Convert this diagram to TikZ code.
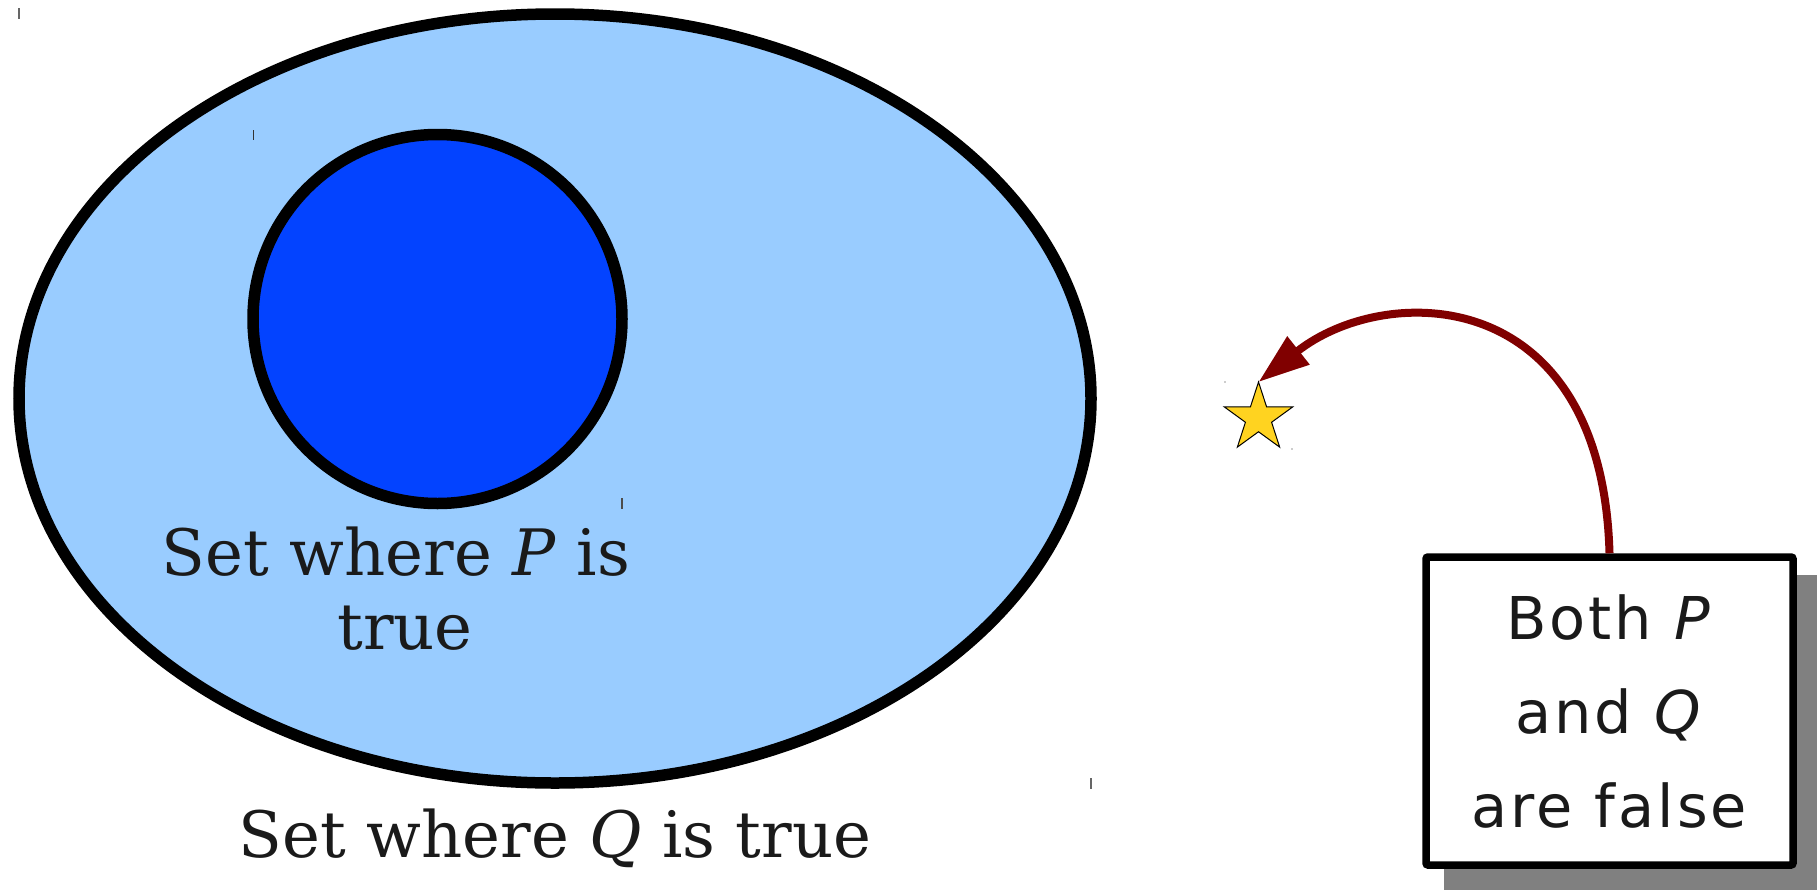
\documentclass[tikz,border=0pt]{standalone}
\usepackage{fontspec}
\setmainfont{DejaVu Serif}
\newfontfamily\boxfont[LetterSpace=5]{DejaVu Sans}
\usetikzlibrary{shapes.geometric,arrows.meta}
\definecolor{outerblue}{HTML}{99CCFF}
\definecolor{innerblue}{HTML}{0343FF}
\definecolor{arrowred}{HTML}{800000}
\definecolor{stargold}{HTML}{FFD320}
\definecolor{shadowgray}{HTML}{808080}
\definecolor{textdark}{HTML}{1A1A1A}
\tikzset{
  setline/.style={draw=black,line width=11.5pt},
  cornermark/.style={draw=black!60,line width=1.5pt},
  settext/.style={text=textdark,font=\fontsize{64}{74}\selectfont,inner sep=0pt},
  notebox/.style={draw=black,line width=7.5pt,fill=white,rounded corners=2pt,
    minimum width=367pt,minimum height=308pt,inner sep=0pt,align=center,
    text=textdark,font=\boxfont\fontsize{59}{94}\selectfont},
  arrowline/.style={draw=arrowred,line width=8pt,
    -{Triangle[length=51pt,width=34pt]}},
  goldstar/.style={star,star points=5,star point ratio=2.618,minimum size=72pt,
    inner sep=0pt,outer sep=0pt,fill=stargold,draw=black,line width=1pt}
}
\begin{document}
\begin{tikzpicture}[x=1pt,y=-1pt]
\useasboundingbox (0,0) rectangle (1817,889);
\clip (0,0) rectangle (1817,889);
% sets
\draw[setline,fill=outerblue] (555,398.5) ellipse [x radius=536,y radius=384.5];
\draw[setline,fill=innerblue] (437.5,319) circle [radius=184.5];
% corner marks
\draw[cornermark] (19,8) -- (19,19);
\draw[cornermark] (1091,778) -- (1091,789);
\draw[cornermark,draw=black!80] (253.5,130) -- (253.5,140);
\draw[cornermark,draw=black!70] (622,498) -- (622,509);
\fill[black!40] (1225,382) circle [radius=0.8];
\fill[black!40] (1292,449) circle [radius=0.8];
% labels
\node[settext,align=center] (plabel) at (396,589) {Set where \textit{P} is\\\hspace*{18pt}true};
\node[settext,anchor=base] (qlabel) at (555,857) {Set where \textit{Q} is true};
% note box
\coordinate (shadowa) at (1444,575);
\fill[shadowgray] (shadowa) rectangle (1830,900);
\node[notebox] (box) at (1609.5,711) {Both \textit{P}\\and \textit{Q}\\are false};
% star and arrow
\node[goldstar] (goal) at (1258.5,418) {};
\draw[arrowline] (box.north) .. controls (1602,282) and (1385,282) .. (goal.north);
\end{tikzpicture}
\end{document}
